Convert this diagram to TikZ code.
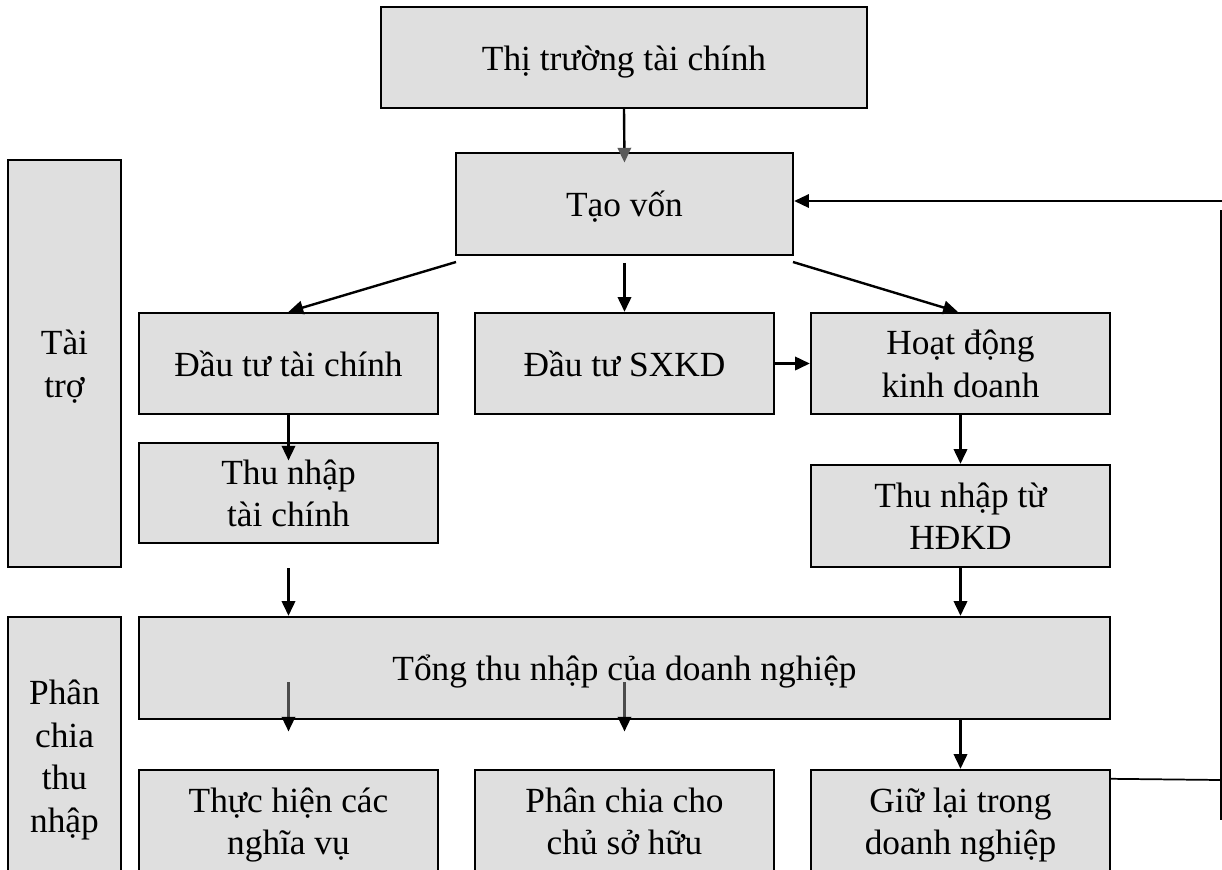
\documentclass[tikz,border=0pt]{standalone}
\usepackage{fontspec}
\setmainfont{Liberation Serif}
\usetikzlibrary{arrows.meta}

\newcommand{\bs}{\rule[-9.6pt]{0pt}{38pt}}

\tikzset{
  blk/.style={draw, line width=1.8pt, fill=gray!25, inner sep=0pt, align=center,
    font=\fontsize{26.5}{32}\selectfont,
    execute at begin node=\bs, execute at end node=\bs},
  arr/.style={line width=1.8pt, -{Triangle[length=11pt,width=10pt]}},
  garr/.style={line width=1.8pt, draw=gray!60!black, -{Triangle[length=11pt,width=10pt,color=black]}},
}

\begin{document}
\begin{tikzpicture}[x=0.75pt,y=-0.75pt]
	\useasboundingbox (0,0) rectangle (1222,869);
	\clip (0,0) rectangle (1222,869);

	% hang tren
	\node[blk, minimum width=486*0.75pt, minimum height=101*0.75pt] (tt) at (624,57.5) {Thị trường tài chính};
	\node[blk, minimum width=337*0.75pt, minimum height=102*0.75pt] (tv) at (624.5,204) {Tạo vốn};

	% dau tu
	\node[blk, minimum width=299*0.75pt, minimum height=101*0.75pt] (dttc) at (288.5,363.5) {Đầu tư tài chính};
	\node[blk, minimum width=299*0.75pt, minimum height=101*0.75pt] (sxkd) at (624.5,363.5) {Đầu tư SXKD};
	\node[blk, minimum width=299*0.75pt, minimum height=101*0.75pt] (hd) at (960.5,363.5) {\bs Hoạt động\\kinh doanh};

	% thu nhap
	\node[blk, minimum width=299*0.75pt, minimum height=100*0.75pt] (tntc) at (288.5,493) {\bs Thu nhập\\tài chính};
	\node[blk, minimum width=299*0.75pt, minimum height=102*0.75pt] (tnkd) at (960.5,516) {\bs Thu nhập từ\\HĐKD};
	\node[blk, minimum width=971*0.75pt, minimum height=102*0.75pt] (tong) at (624.5,668) {Tổng thu nhập của doanh nghiệp};

	% phan chia
	\node[blk, minimum width=299*0.75pt, minimum height=102*0.75pt] (thuc) at (288.5,821) {\bs Thực hiện các\\nghĩa vụ};
	\node[blk, minimum width=299*0.75pt, minimum height=102*0.75pt] (chia) at (624.5,821) {\bs Phân chia cho\\chủ sở hữu};
	\node[blk, minimum width=299*0.75pt, minimum height=102*0.75pt] (giu) at (960.5,821) {\bs Giữ lại trong\\doanh nghiệp};

	% cot trai
	\node[blk, minimum width=113*0.75pt, minimum height=407*0.75pt] (taitro) at (64.5,363.5) {\bs Tài\\trợ};
	\node[blk, minimum width=113*0.75pt, minimum height=278*0.75pt] (pcti) at (64.5,756) {\bs Phân\\chia\\thu\\nhập};

	\coordinate (a1) at (456,262);
	\coordinate (a2) at (793,262);
	\coordinate (fb1) at (1221,780);
	\coordinate (fb2) at (1221,210);
	\coordinate (fb3) at (1221,820);
	\coordinate (fb4) at (1222,201);

	\draw[line width=1.8pt, -{Triangle[length=11pt,width=10pt,color=gray!70!black]}] (tt.south) -- ([yshift=-8pt]tv.north);
	\draw[arr] (a1) -- (dttc.north);
	\draw[arr] ([yshift=-5pt]tv.south) -- (sxkd.north);
	\draw[arr] (a2) -- ([xshift=-2pt]hd.north);
	\draw[arr] (sxkd.east) -- (hd.west);

	\draw[arr] (dttc.south) -- ([yshift=-14pt]tntc.north);
	\draw[arr] ([yshift=-18pt]tntc.south) -- (tntc.south |- tong.north);
	\draw[arr] (hd.south) -- (tnkd.north);
	\draw[arr] (tnkd.south) -- (tnkd.south |- tong.north);

	\draw[garr] ([yshift=65pt]thuc.north) -- ([yshift=28pt]thuc.north);
	\draw[garr] ([yshift=65pt]chia.north) -- ([yshift=28pt]chia.north);
	\draw[arr] (giu.north |- tong.south) -- (giu.north);

	% vong lai
	\draw[line width=1.3pt] ([yshift=-7.5pt]giu.north east) -- (fb1);
	\draw[line width=1.3pt] (fb2) -- (fb3);
	\draw[arr, line width=1.5pt] (fb4) -- (tv.east |- fb4);
\end{tikzpicture}
\end{document}
